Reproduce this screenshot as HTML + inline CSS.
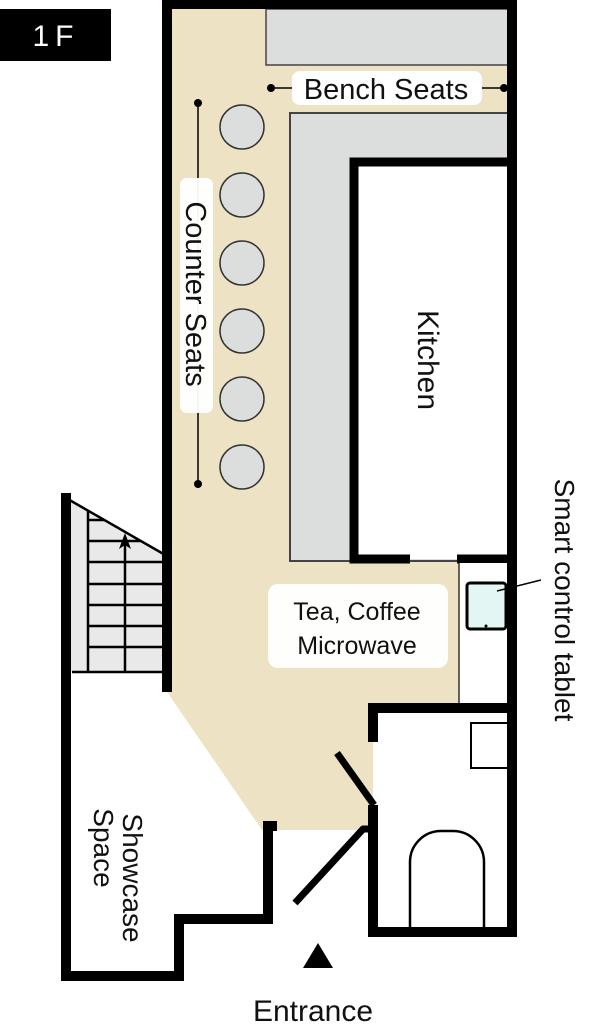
<!DOCTYPE html>
<html><head><meta charset="utf-8"><style>
html,body{margin:0;padding:0;background:#fff;}
svg{display:block;}
text{font-family:"Liberation Sans",sans-serif;fill:#111;}
</style></head><body>
<svg width="608" height="1024" viewBox="0 0 608 1024" xmlns="http://www.w3.org/2000/svg">
<defs><clipPath id="st"><polygon points="66,498 167,556 167,680 66,680"/></clipPath></defs>
<!-- 1F label -->
<rect x="0" y="9" width="111" height="52" fill="#000"/>
<text x="56" y="46" font-size="30" text-anchor="middle" letter-spacing="6" style="fill:#fff">1F</text>

<!-- beige floor -->
<polygon points="167,5 512,5 512,563 459,563 459,708 373,708 373,830 262,830 167,692" fill="#ede3c4"/>

<!-- stair area -->
<polygon points="66,498 167,556 167,672 66,672" fill="#e9e9e9"/>
<g stroke="#000" stroke-width="2.5" fill="none" clip-path="url(#st)">
<line x1="88" y1="500" x2="88" y2="672"/>
<line x1="88" y1="520" x2="167" y2="520"/>
<line x1="88" y1="541" x2="167" y2="541"/>
<line x1="88" y1="562" x2="167" y2="562"/>
<line x1="88" y1="584" x2="167" y2="584"/>
<line x1="88" y1="605" x2="167" y2="605"/>
<line x1="88" y1="626" x2="167" y2="626"/>
<line x1="88" y1="647" x2="167" y2="647"/>
<line x1="125" y1="540" x2="125" y2="672"/>
</g>
<g stroke="#000" stroke-width="2.5" fill="none">
<line x1="66" y1="498" x2="167" y2="556"/>
<line x1="72" y1="672" x2="167" y2="672"/>
</g>
<polygon points="125,533 119,549 125,545 131,549" fill="#000"/>

<!-- bench gray -->
<rect x="266" y="9" width="244" height="56" fill="#dcdddd" stroke="#444" stroke-width="1.5"/>
<!-- L counter gray -->
<rect x="290" y="113" width="220" height="448" fill="#dcdddd" stroke="#444" stroke-width="2"/>
<!-- kitchen -->
<rect x="354" y="162" width="158" height="397" fill="#fff"/>
<g stroke="#000" stroke-width="9" fill="none">
<polyline points="410,559 354,559 354,162 512,162"/>
<line x1="457" y1="559" x2="512" y2="559"/>
</g>
<text transform="translate(418,360) rotate(90)" font-size="30" text-anchor="middle">Kitchen</text>

<!-- tablet alcove -->
<rect x="459" y="563" width="50" height="141" fill="#fff"/>
<line x1="459" y1="563" x2="459" y2="704" stroke="#333" stroke-width="1.5"/>
<rect x="467" y="583" width="39" height="46" rx="3" fill="#e3f6f4" stroke="#000" stroke-width="3"/>
<circle cx="486" cy="626" r="1.5" fill="#000"/>
<line x1="497" y1="591" x2="541" y2="580" stroke="#000" stroke-width="1.5"/>
<text transform="translate(555,600) rotate(90)" font-size="28" text-anchor="middle">Smart control tablet</text>

<!-- stools -->
<g fill="#dcdddd" stroke="#333" stroke-width="1.5">
<circle cx="242" cy="127" r="22"/><circle cx="242" cy="195" r="22"/>
<circle cx="242" cy="263" r="22"/><circle cx="242" cy="331" r="22"/>
<circle cx="242" cy="399" r="22"/><circle cx="242" cy="467" r="22"/>
</g>
<!-- counter seats label -->
<line x1="198" y1="103" x2="198" y2="484" stroke="#000" stroke-width="1.5"/>
<circle cx="198" cy="103" r="4" fill="#000"/><circle cx="198" cy="484" r="4" fill="#000"/>
<rect x="180" y="178" width="33" height="235" rx="7" fill="#fff" opacity="0.95"/>
<text transform="translate(186,294) rotate(90)" font-size="29" text-anchor="middle">Counter Seats</text>
<!-- bench label -->
<line x1="270" y1="88" x2="504" y2="88" stroke="#000" stroke-width="1.5"/>
<circle cx="271" cy="88" r="4" fill="#000"/><circle cx="504" cy="88" r="4" fill="#000"/>
<rect x="292" y="71" width="190" height="34" rx="8" fill="#fff"/>
<text x="386" y="99" font-size="29" text-anchor="middle">Bench Seats</text>

<!-- tea label -->
<rect x="268" y="584" width="180" height="84" rx="10" fill="#fff" opacity="0.95"/>
<text x="357" y="620" font-size="25" text-anchor="middle">Tea, Coffee</text>
<text x="357" y="654" font-size="25" text-anchor="middle">Microwave</text>

<!-- outer walls -->
<g stroke="#000" stroke-width="10" fill="none">
<polyline points="167,692 167,4 512,4 512,932 373,932 373,805"/>
<polyline points="373,742 373,708 512,708"/>
<polyline points="66,493 66,976 179,976 179,919 268,919 268,826 277,826"/>
<line x1="362" y1="829" x2="378" y2="829" stroke-width="7"/>
</g>
<!-- bath fixtures -->
<rect x="471" y="723" width="37" height="45" fill="none" stroke="#000" stroke-width="2"/>
<path d="M410,928 L410,862 A31,31 0 0 1 441,831 L453,831 A31,31 0 0 1 484,862 L484,928" fill="none" stroke="#000" stroke-width="2.5"/>
<!-- doors -->
<line x1="337" y1="753" x2="374" y2="805" stroke="#000" stroke-width="7"/>
<line x1="364" y1="828" x2="295" y2="903" stroke="#000" stroke-width="7"/>

<text transform="translate(123,878) rotate(90)" font-size="28" text-anchor="middle">Showcase</text>
<text transform="translate(94,848) rotate(90)" font-size="28" text-anchor="middle">Space</text>

<polygon points="318,943 303,968 333,968" fill="#000"/>
<text x="313" y="1021" font-size="30" text-anchor="middle">Entrance</text>
</svg>
</body></html>
